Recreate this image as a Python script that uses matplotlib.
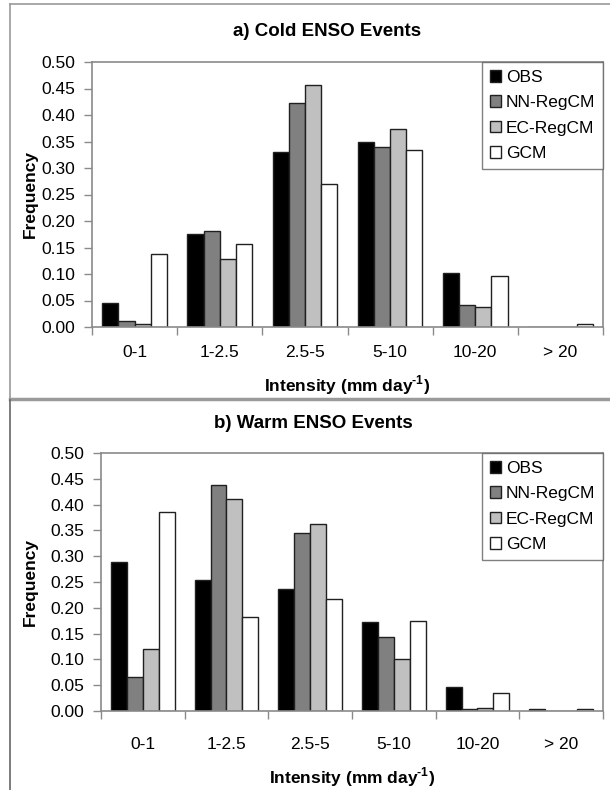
import numpy as np
import matplotlib
matplotlib.use('Agg')
import matplotlib.pyplot as plt
from matplotlib.lines import Line2D

# ---- data ----
categories = ['0-1', '1-2.5', '2.5-5', '5-10', '10-20', '> 20']
series_names = ['OBS', 'NN-RegCM', 'EC-RegCM', 'GCM']
series_colors = ['#000000', '#808080', '#c0c0c0', '#ffffff']

cold_obs = [0.045, 0.175, 0.331, 0.349, 0.102, 0.0]
cold_nn = [0.012, 0.182, 0.422, 0.340, 0.042, 0.0]
cold_ec = [0.006, 0.129, 0.457, 0.374, 0.038, 0.0]
cold_gcm = [0.137, 0.156, 0.270, 0.334, 0.097, 0.006]

warm_obs = [0.289, 0.253, 0.237, 0.173, 0.046, 0.004]
warm_nn = [0.065, 0.438, 0.344, 0.144, 0.004, 0.0]
warm_ec = [0.120, 0.410, 0.362, 0.100, 0.006, 0.0]
warm_gcm = [0.386, 0.182, 0.218, 0.174, 0.035, 0.003]

yticks = [0.00, 0.05, 0.10, 0.15, 0.20, 0.25, 0.30, 0.35, 0.40, 0.45, 0.50]

plt.rcParams['font.family'] = ['Liberation Sans', 'DejaVu Sans']
plt.rcParams['mathtext.fontset'] = 'custom'
plt.rcParams['mathtext.rm'] = 'Liberation Sans:bold'
plt.rcParams['mathtext.bf'] = 'Liberation Sans:bold'

W, H = 610, 790
fig = plt.figure(figsize=(W / 100, H / 100), dpi=100)

SPINE = '#8a8a8a'
BW = 0.19
FS = 12.5


def draw_panel(rect, data, title, title_xy, ylab_x, xlab_y, tick_pad):
    ax = fig.add_axes(rect)
    x = np.arange(len(categories))
    for i, (vals, col, name) in enumerate(zip(data, series_colors, series_names)):
        ax.bar(x + (i - 1.5) * BW, vals, BW, color=col, edgecolor='#202020',
               linewidth=1.0, label=name, zorder=2)
    ax.set_xlim(-0.5, len(categories) - 0.5)
    ax.set_ylim(0, 0.5)
    ax.set_yticks(yticks)
    ax.set_yticklabels([f'{v:.2f}' for v in yticks], fontsize=FS)
    ax.set_xticks(x)
    ax.set_xticklabels(categories, fontsize=FS)
    ax.set_xticks(np.arange(len(categories) + 1) - 0.5, minor=True)
    ax.tick_params(axis='x', which='major', length=0, pad=tick_pad)
    ax.tick_params(axis='x', which='minor', length=6, width=1, color=SPINE,
                   direction='out')
    ax.tick_params(axis='y', length=6, width=1, color=SPINE, pad=6,
                   direction='out')
    for s in ax.spines.values():
        s.set_color(SPINE)
        s.set_linewidth(1.2)
    ax.set_ylabel('Frequency', fontsize=FS, fontweight='bold')
    ax.yaxis.set_label_coords(ylab_x, 0.5)
    ax.set_xlabel('Intensity (mm day$^{\\text{-1}}$)', fontsize=FS,
                  fontweight='bold')
    ax.xaxis.set_label_coords(0.5, xlab_y)
    leg = ax.legend(loc='upper right', fontsize=FS, frameon=True, fancybox=False,
                    borderaxespad=0.0, handlelength=0.65, handleheight=0.65,
                    handletextpad=0.25, labelspacing=0.6, borderpad=0.45)
    leg.get_frame().set_edgecolor('#606060')
    leg.get_frame().set_linewidth(1.0)
    fig.text(title_xy[0] / W, 1 - title_xy[1] / H, title, ha='center',
             va='center', fontsize=13.5, fontweight='bold')
    return ax


# top panel: axes from x 92..603, y 62..327 (pixels)
draw_panel([92 / W, 1 - 327 / H, 511 / W, 265 / H],
           [cold_obs, cold_nn, cold_ec, cold_gcm],
           'a) Cold ENSO Events', (327, 32), -0.106, -0.175, 13)

# bottom panel: axes from x 101..603, y 453..711
draw_panel([101 / W, 1 - 711 / H, 502 / W, 258 / H],
           [warm_obs, warm_nn, warm_ec, warm_gcm],
           'b) Warm ENSO Events', (313, 423), -0.125, -0.21, 19)

# chart area frames
fig.add_artist(Line2D([10 / W, 10 / W], [1 - 4 / H, 1 - 398 / H],
                      color='#9a9a9a', lw=1.2))
fig.add_artist(Line2D([10 / W, 1.0], [1 - 4 / H, 1 - 4 / H],
                      color='#9a9a9a', lw=1.2))
fig.add_artist(Line2D([10 / W, 1.0], [1 - 399 / H, 1 - 399 / H],
                      color='#9a9a9a', lw=2.5))
fig.add_artist(Line2D([10 / W, 10 / W], [1 - 400 / H, 0.0],
                      color='#666666', lw=1.2))

fig.savefig('out.png', dpi=100)
